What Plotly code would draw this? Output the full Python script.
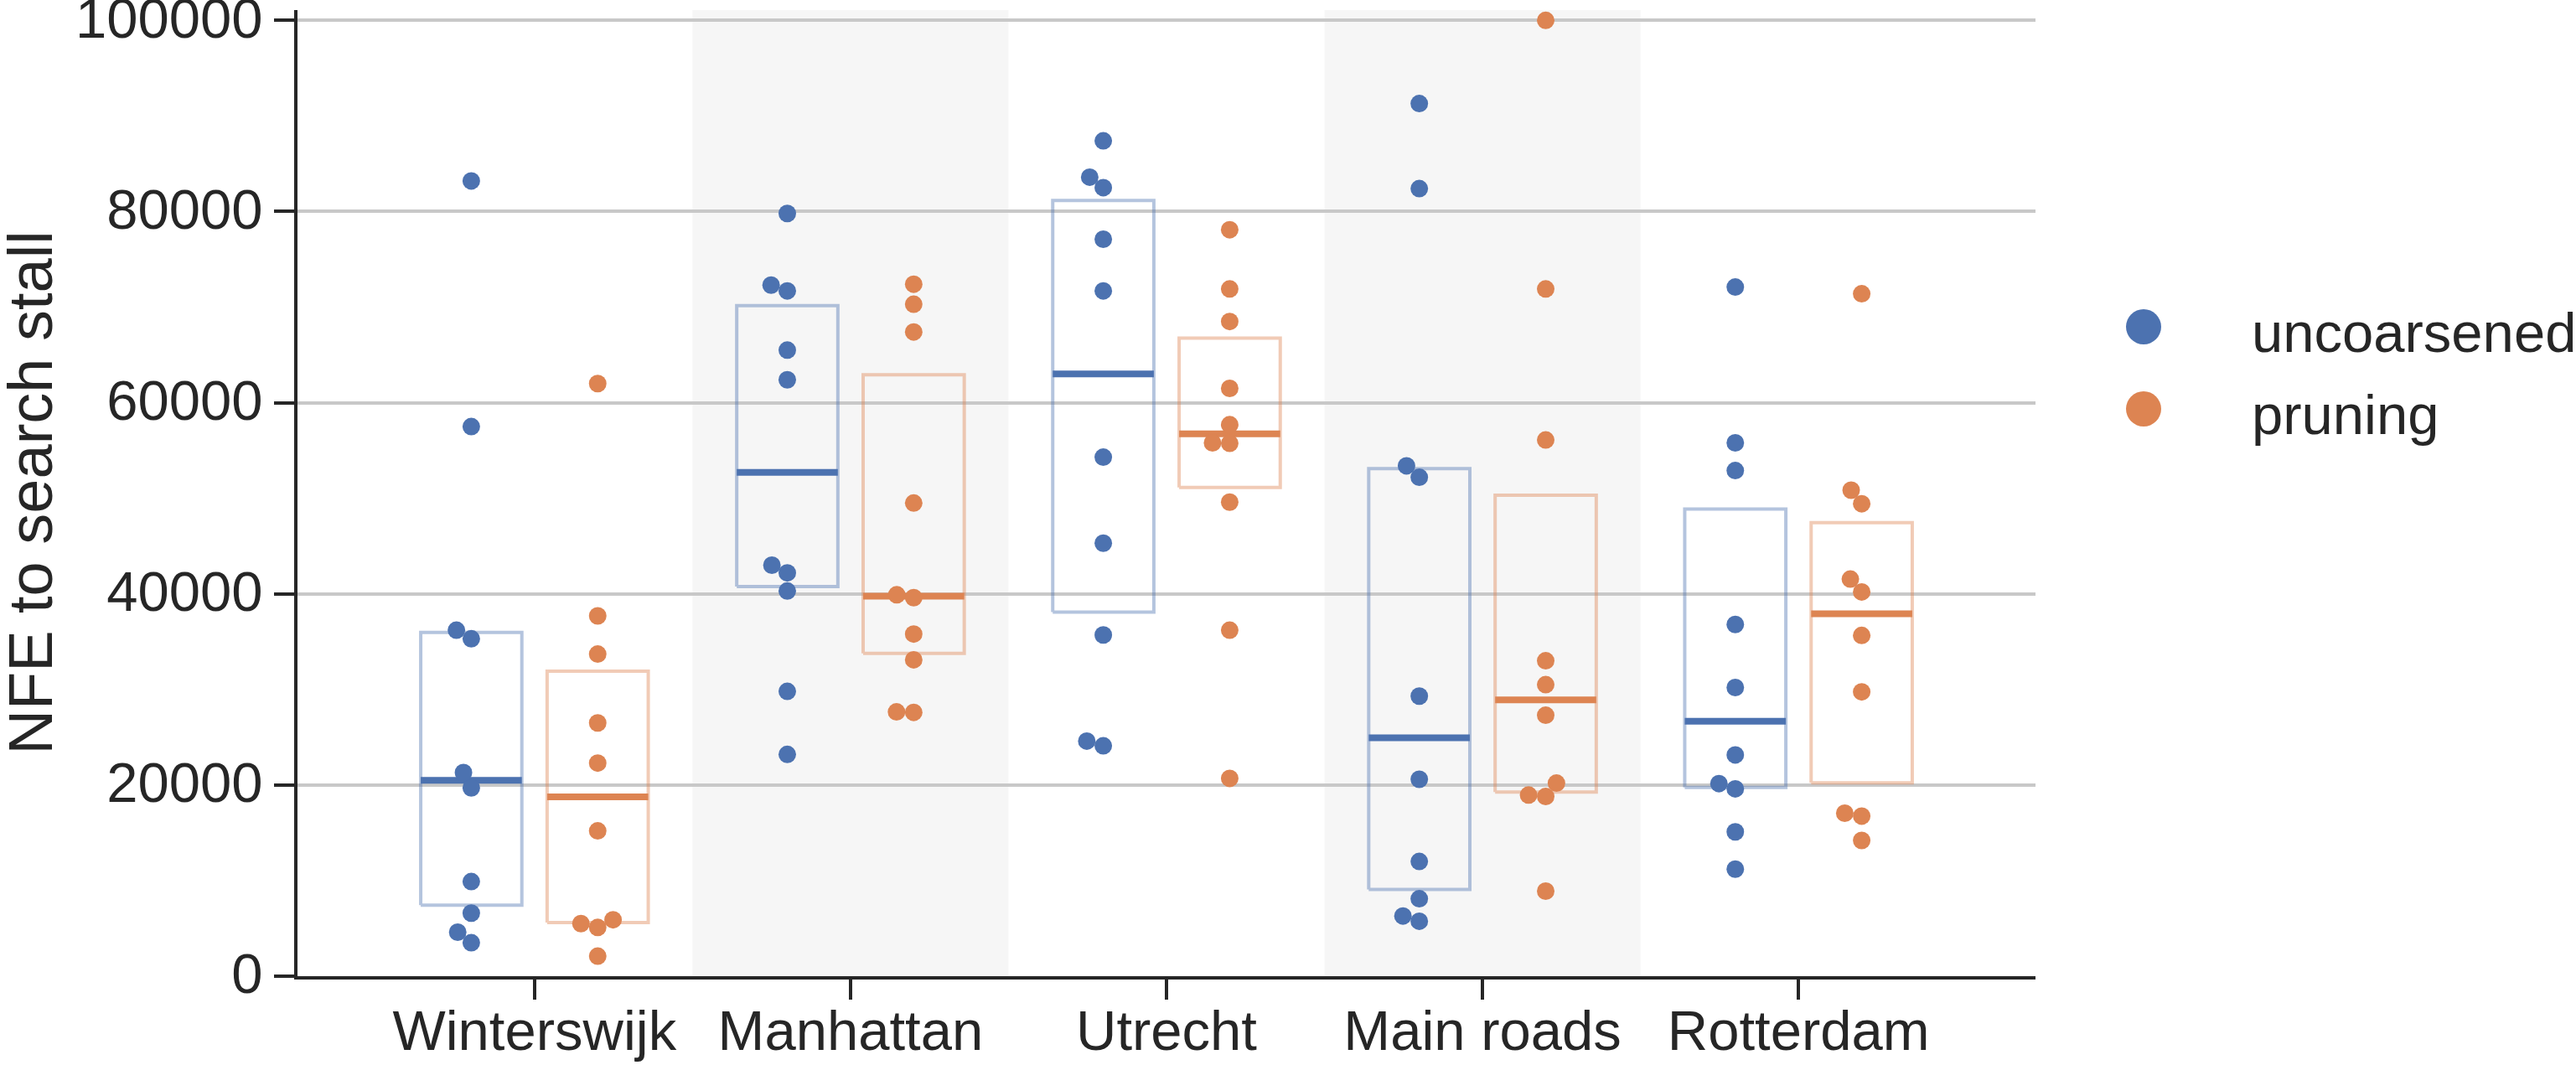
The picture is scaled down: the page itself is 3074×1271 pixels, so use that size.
import numpy as np
import plotly.graph_objects as go

# data
categories = ["Winterswijk", "Manhattan", "Utrecht", "Main roads", "Rotterdam"]
series_names = ["uncoarsened", "pruning"]
y_ticks = [0, 20000, 40000, 60000, 80000, 100000]

winterswijk_uncoarsened = [83200, 57500, 36200, 35300, 21300, 19700, 9900, 6600, 4600, 3500]
winterswijk_pruning = [62000, 37700, 33700, 26500, 22300, 15200, 5500, 5100, 5900, 2100]
manhattan_uncoarsened = [79800, 72300, 71700, 65500, 62400, 43000, 42200, 40300, 29800, 23200]
manhattan_pruning = [72400, 70300, 67400, 49500, 39900, 39600, 35800, 33100, 27600, 27650]
utrecht_uncoarsened = [87400, 83600, 82500, 77100, 71700, 54300, 45300, 35700, 24600, 24100]
utrecht_pruning = [78100, 71900, 68500, 61500, 57700, 55800, 55750, 49600, 36200, 20700]
mainroads_uncoarsened = [91300, 82400, 53400, 52200, 29300, 20600, 12000, 8100, 6300, 5750]
mainroads_pruning = [100000, 71900, 56100, 33000, 30500, 27300, 20200, 18950, 18800, 8900]
rotterdam_uncoarsened = [72100, 55800, 52900, 36800, 30200, 23150, 20150, 19600, 15100, 11200]
rotterdam_pruning = [71400, 50850, 49430, 41550, 40200, 35650, 29750, 17050, 16750, 14200]

uncoarsened = [winterswijk_uncoarsened, manhattan_uncoarsened, utrecht_uncoarsened,
               mainroads_uncoarsened, rotterdam_uncoarsened]
pruning = [winterswijk_pruning, manhattan_pruning, utrecht_pruning,
           mainroads_pruning, rotterdam_pruning]

# figure geometry (pixels)
W, H = 3074, 1271
ML, MT, MB = 355, 12, 106
PLOT_W = 2074
PLOT_H = H - MT - MB
X_RANGE = [-0.75, 4.75]
Y_RANGE = [0, 101080]
px_per_cat = PLOT_W / (X_RANGE[1] - X_RANGE[0])
px_per_val = PLOT_H / (Y_RANGE[1] - Y_RANGE[0])

BLUE = "#4c72b0"
ORANGE = "#dd8452"
BLUE_LIGHT = "rgba(76,114,176,0.42)"
ORANGE_LIGHT = "rgba(221,132,82,0.42)"
TEXT = "#262626"
FONT = "Liberation Sans, Arial, sans-serif"
DODGE = 0.2
HALF_BOX = 0.16


def swarm(values, d=20.5):
    # simple beeswarm: place points bottom-up, nearest free spot to the centre
    order = np.argsort(values, kind="stable")
    placed = []
    offsets = np.zeros(len(values))
    for i in order:
        y = values[i] * px_per_val
        cands = [0.0]
        for px, py in placed:
            dy = abs(y - py)
            if dy < d:
                dx = np.sqrt(d * d - dy * dy)
                cands += [px - dx, px + dx]
        cands.sort(key=lambda c: (abs(c), c))
        for c in cands:
            if all((c - px) ** 2 + (y - py) ** 2 >= d * d - 1e-6 for px, py in placed):
                break
        placed.append((c, y))
        offsets[i] = c / px_per_cat
    return offsets


fig = go.Figure()

series = [(uncoarsened, BLUE, BLUE_LIGHT, -DODGE), (pruning, ORANGE, ORANGE_LIGHT, DODGE)]

# boxes (interquartile range) and medians
for data, color, light, dodge in series:
    for ci, vals in enumerate(data):
        q1, med, q3 = np.percentile(vals, [25, 50, 75])
        cx = ci + dodge
        fig.add_trace(go.Scatter(
            x=[cx - HALF_BOX, cx + HALF_BOX, cx + HALF_BOX, cx - HALF_BOX, cx - HALF_BOX],
            y=[q1, q1, q3, q3, q1], mode="lines",
            line=dict(color=light, width=4), showlegend=False, hoverinfo="skip"))
        fig.add_trace(go.Scatter(
            x=[cx - HALF_BOX, cx + HALF_BOX], y=[med, med], mode="lines",
            line=dict(color=color, width=8), showlegend=False, hoverinfo="skip"))

# swarm points
for (data, color, light, dodge), name in zip(series, series_names):
    xs, ys = [], []
    for ci, vals in enumerate(data):
        offs = swarm(np.array(vals, dtype=float))
        xs += list(ci + dodge + offs)
        ys += list(vals)
    fig.add_trace(go.Scatter(x=xs, y=ys, mode="markers", name=name, cliponaxis=False,
                             marker=dict(color=color, size=21, line=dict(width=0)),
                             showlegend=False))

# alternating background bands
for ci in [1, 3]:
    fig.add_shape(type="rect", xref="x", yref="paper", x0=ci - 0.5, x1=ci + 0.5, y0=0, y1=1,
                  fillcolor="#f6f6f6", line=dict(width=0), layer="below")

paper_w = W - ML
x_dom = PLOT_W / paper_w

# legend drawn by hand so the markers can be large
legend_px_x = 2558
legend_text_x = 2685
legend_rows = [390, 488]
for name, color, row in zip(series_names, [BLUE, ORANGE], legend_rows):
    px = (legend_px_x - ML) / paper_w
    py = (H - MB - row) / PLOT_H
    fig.add_shape(type="circle", xref="paper", yref="paper", xsizemode="pixel",
                  ysizemode="pixel", xanchor=px, yanchor=py, x0=-21, x1=21, y0=-21, y1=21,
                  fillcolor=color, line=dict(width=0))
    fig.add_annotation(x=(legend_text_x - ML) / paper_w, y=py, xref="paper", yref="paper",
                       text=name, showarrow=False, xanchor="left", yanchor="middle", yshift=-6,
                       font=dict(size=67, color=TEXT, family=FONT))

# y axis title
fig.add_annotation(x=0, y=0.5, xref="paper", yref="paper", text="NFE to search stall",
                   textangle=-90, showarrow=False, xanchor="center", yanchor="middle",
                   xshift=-(ML - 36), font=dict(size=74, color=TEXT, family=FONT))

fig.update_layout(
    width=W, height=H,
    margin=dict(l=ML, r=0, t=MT, b=MB, pad=0, autoexpand=False),
    paper_bgcolor="white", plot_bgcolor="white",
    font=dict(family=FONT, color=TEXT, size=67),
    showlegend=False,
)
fig.update_xaxes(domain=[0, x_dom], range=X_RANGE, tickvals=list(range(len(categories))),
                 ticktext=categories, showline=True, linecolor=TEXT, linewidth=4,
                 ticks="outside", ticklen=24, tickwidth=4, tickcolor=TEXT, automargin=False,
                 ticklabelstandoff=-20, ticklabeloverflow="allow",
                 showgrid=False, zeroline=False, tickfont=dict(size=67, color=TEXT))
fig.update_yaxes(range=Y_RANGE, tickvals=y_ticks, tickformat="d", showline=True,
                 linecolor=TEXT, linewidth=4, ticks="outside", ticklen=24, tickwidth=4,
                 tickcolor=TEXT, showgrid=True, gridcolor="#c8c8c8", gridwidth=4,
                 automargin=False, ticklabeloverflow="allow", ticklabelshift=-3,
                 zeroline=False, tickfont=dict(size=67, color=TEXT))

fig.write_html("out.html", config={"displayModeBar": False},
               post_script="document.body.style.margin='0';")
